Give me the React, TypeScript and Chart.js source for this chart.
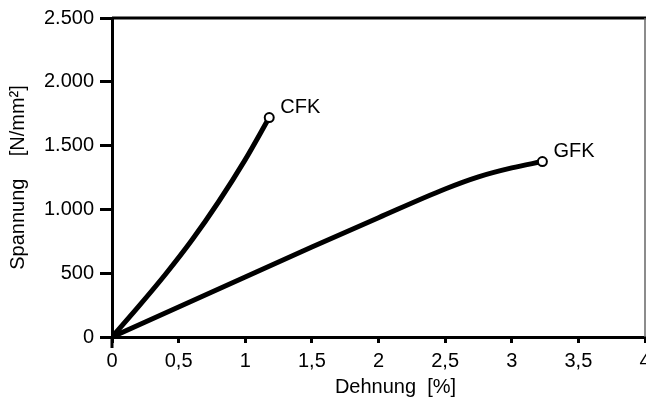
import React, { useEffect, useRef } from "react";
import { Chart, registerables } from "chart.js";

Chart.register(...registerables);

// Data (Dehnung in %, Spannung in N/mm²)
const cfkStrain = [0, 0.2, 0.4, 0.6, 0.8, 1.0, 1.18];
const cfkStress = [0, 240, 490, 760, 1060, 1390, 1720];
const gfkStrain = [0, 0.5, 1, 1.5, 2, 2.5, 2.75, 3.0, 3.23];
const gfkStress = [0, 235, 470, 705, 935, 1160, 1255, 1325, 1375];
const seriesNames = ["CFK", "GFK"];
const xTicks = [0, 0.5, 1, 1.5, 2, 2.5, 3, 3.5, 4];
const yTicks = [0, 500, 1000, 1500, 2000, 2500];
const xTitle = "Dehnung  [%]";
const yTitle = "Spannung    [N/mm²]";

const FONT = '"Liberation Sans", Arial, Helvetica, sans-serif';

const toPoints = (xs: number[], ys: number[]) => xs.map((x, i) => ({ x, y: ys[i] }));
const lastOnly = (n: number, r: number) => Array.from({ length: n }, (_, i) => (i === n - 1 ? r : 0));

const decorPlugin = {
  id: "decor",
  afterDraw(chart: any) {
    const { ctx, chartArea } = chart;
    const { left, right, top, bottom } = chartArea;
    ctx.save();
    // top frame line
    ctx.strokeStyle = "#000";
    ctx.lineWidth = 3;
    ctx.beginPath();
    ctx.moveTo(left, top);
    ctx.lineTo(right + 2, top);
    ctx.stroke();
    // right frame line (thin grey)
    ctx.strokeStyle = "#666";
    ctx.lineWidth = 1.5;
    ctx.beginPath();
    ctx.moveTo(right, top);
    ctx.lineTo(right, bottom);
    ctx.stroke();
    // y-axis extension below origin
    ctx.strokeStyle = "#000";
    ctx.lineWidth = 3;
    ctx.beginPath();
    ctx.moveTo(left, bottom);
    ctx.lineTo(left, bottom + 11);
    ctx.stroke();

    // series labels at end points
    ctx.fillStyle = "#000";
    ctx.font = `20px ${FONT}`;
    ctx.textAlign = "left";
    ctx.textBaseline = "alphabetic";
    chart.data.datasets.forEach((ds: any, i: number) => {
      const meta = chart.getDatasetMeta(i);
      const pt = meta.data[meta.data.length - 1];
      ctx.fillText(seriesNames[i], pt.x + 11, pt.y - 5);
    });

    // axis titles
    ctx.font = `20px ${FONT}`;
    ctx.textAlign = "center";
    ctx.fillText(xTitle, (left + right) / 2 + 17, bottom + 56);
    ctx.translate(24, (top + bottom) / 2);
    ctx.rotate(-Math.PI / 2);
    ctx.fillText(yTitle, 0, 0);
    ctx.restore();
  },
};

export default function App() {
  const ref = useRef<HTMLCanvasElement | null>(null);

  useEffect(() => {
    if (!ref.current) return;
    const chart = new Chart(ref.current, {
      type: "line",
      data: {
        datasets: [
          {
            label: seriesNames[0],
            data: toPoints(cfkStrain, cfkStress),
            borderColor: "#000",
            borderWidth: 5,
            cubicInterpolationMode: "monotone",
            pointRadius: lastOnly(cfkStrain.length, 4.5),
            pointBackgroundColor: "#fff",
            pointBorderColor: "#000",
            pointBorderWidth: 2,
          },
          {
            label: seriesNames[1],
            data: toPoints(gfkStrain, gfkStress),
            borderColor: "#000",
            borderWidth: 5,
            cubicInterpolationMode: "monotone",
            pointRadius: lastOnly(gfkStrain.length, 4.5),
            pointBackgroundColor: "#fff",
            pointBorderColor: "#000",
            pointBorderWidth: 2,
          },
        ],
      },
      options: {
        responsive: false,
        animation: false,
        devicePixelRatio: 1,
        layout: { padding: { left: 0, top: 14, right: 35, bottom: 0 } },
        plugins: { legend: { display: false }, tooltip: { enabled: false } },
        scales: {
          x: {
            type: "linear",
            min: 0,
            max: 4,
            afterFit: (s: any) => {
              s.height = 71;
            },
            afterBuildTicks: (s: any) => {
              s.ticks = xTicks.map((v) => ({ value: v }));
            },
            ticks: {
              color: "#000",
              font: { family: FONT, size: 20 },
              padding: 6,
              maxRotation: 0,
              autoSkip: false,
              callback: (v: any) => String(v).replace(".", ","),
            },
            grid: {
              drawOnChartArea: false,
              drawTicks: true,
              tickLength: 6,
              color: "#000",
              lineWidth: 3,
            },
            border: { color: "#000", width: 3 },
          },
          y: {
            type: "linear",
            min: 0,
            max: 2500,
            afterFit: (s: any) => {
              s.width = 112;
            },
            afterBuildTicks: (s: any) => {
              s.ticks = yTicks.map((v) => ({ value: v }));
            },
            ticks: {
              color: "#000",
              font: { family: FONT, size: 20 },
              padding: 6,
              autoSkip: false,
              callback: (v: any) => String(v).replace(/\B(?=(\d{3})+(?!\d))/g, "."),
            },
            grid: {
              drawOnChartArea: false,
              drawTicks: true,
              tickLength: 12,
              color: "#000",
              lineWidth: 3,
            },
            border: { color: "#000", width: 3 },
          },
        },
      },
      plugins: [decorPlugin],
    } as any);
    return () => chart.destroy();
  }, []);

  return (
    <div
      style={{
        position: "fixed",
        left: 0,
        top: 0,
        width: 646,
        height: 408,
        overflow: "hidden",
        background: "#fff",
      }}
    >
      <canvas ref={ref} width={680} height={408} style={{ display: "block" }} />
    </div>
  );
}
